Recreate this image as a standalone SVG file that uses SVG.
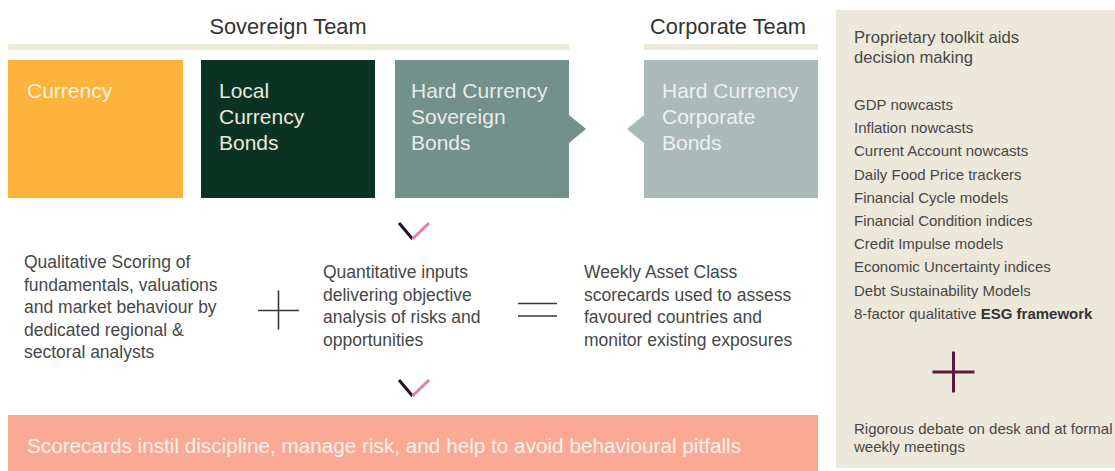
<svg xmlns="http://www.w3.org/2000/svg" width="1115" height="471" viewBox="0 0 1115 471">
  <style>
    text { font-family: "Liberation Sans", Arial, sans-serif; }
    .team { font-size: 21.8px; fill: #333333; text-anchor: middle; }
    .teambar { fill: #EEEADB; }
    .box-label { font-size: 21px; }
    .body { font-size: 17.5px; fill: #474747; }
    .panel-head { font-size: 16.6px; fill: #474747; }
    .panel-item { font-size: 15px; fill: #474747; }
    .op { stroke: #3a3a3a; stroke-width: 1.6; fill: none; }
    .chev-dark { stroke: #2B0F1F; stroke-width: 3; fill: none; }
    .chev-pink { stroke: #E07DB2; stroke-width: 3; fill: none; }
  </style>

  <!-- team headers -->
  <g id="sovereign-team">
    <text class="team" x="288" y="34">Sovereign Team</text>
    <rect class="teambar" x="8" y="44" width="561" height="6"/>
  </g>
  <g id="corporate-team">
    <text class="team" x="728" y="34">Corporate Team</text>
    <rect class="teambar" x="644" y="44" width="174" height="6"/>
  </g>

  <!-- asset class boxes -->
  <g id="currency">
    <rect x="8" y="60" width="175" height="138" fill="#FDB33C"/>
    <text class="box-label" x="27" y="98" fill="#FFF4DE">Currency</text>
  </g>
  <g id="local-currency-bonds">
    <rect x="201" y="60" width="174" height="138" fill="#0B3324"/>
    <text class="box-label" fill="#E9E8DD">
      <tspan x="219" y="98">Local</tspan>
      <tspan x="219" y="124">Currency</tspan>
      <tspan x="219" y="150">Bonds</tspan>
    </text>
  </g>
  <g id="hard-currency-sovereign-bonds">
    <path d="M395 60 H569 V115 L586 129 L569 143 V198 H395 Z" fill="#73908A"/>
    <text class="box-label" fill="#E8ECE8">
      <tspan x="411" y="98">Hard Currency</tspan>
      <tspan x="411" y="124">Sovereign</tspan>
      <tspan x="411" y="150">Bonds</tspan>
    </text>
  </g>
  <g id="hard-currency-corporate-bonds">
    <path d="M644 60 H818 V198 H644 V143 L627 129 L644 115 Z" fill="#AABAB8"/>
    <text class="box-label" fill="#EDF1F0">
      <tspan x="662" y="98">Hard Currency</tspan>
      <tspan x="662" y="124">Corporate</tspan>
      <tspan x="662" y="150">Bonds</tspan>
    </text>
  </g>

  <!-- process description row -->
  <g id="qualitative">
    <text class="body">
      <tspan x="24" y="268">Qualitative Scoring of</tspan>
      <tspan x="24" y="290.5">fundamentals, valuations</tspan>
      <tspan x="24" y="313">and market behaviour by</tspan>
      <tspan x="24" y="335.5">dedicated regional &amp;</tspan>
      <tspan x="24" y="358">sectoral analysts</tspan>
    </text>
  </g>
  <g id="quantitative">
    <text class="body">
      <tspan x="323" y="278">Quantitative inputs</tspan>
      <tspan x="323" y="300.5">delivering objective</tspan>
      <tspan x="323" y="323">analysis of risks and</tspan>
      <tspan x="323" y="345.5">opportunities</tspan>
    </text>
  </g>
  <g id="scorecards">
    <text class="body">
      <tspan x="584" y="278">Weekly Asset Class</tspan>
      <tspan x="584" y="300.5">scorecards used to assess</tspan>
      <tspan x="584" y="323">favoured countries and</tspan>
      <tspan x="584" y="345.5">monitor existing exposures</tspan>
    </text>
  </g>

  <!-- outcome bar -->
  <g id="outcome">
    <rect x="8" y="415" width="810" height="56" fill="#FAAA94"/>
    <text x="27" y="453" font-size="20" fill="#FFF1EC" textLength="714" lengthAdjust="spacingAndGlyphs">Scorecards instil discipline, manage risk, and help to avoid behavioural pitfalls</text>
  </g>

  <!-- toolkit side panel -->
  <g id="toolkit-panel">
    <rect x="836" y="10" width="279" height="458" fill="#EDE9DA"/>
    <text class="panel-head" x="854" y="43" textLength="165" lengthAdjust="spacingAndGlyphs">Proprietary toolkit aids</text>
    <text class="panel-head" x="854" y="63">decision making</text>
    <text class="panel-item">
      <tspan x="854" y="110">GDP nowcasts</tspan>
      <tspan x="854" y="133.2">Inflation nowcasts</tspan>
      <tspan x="854" y="156.4">Current Account nowcasts</tspan>
      <tspan x="854" y="179.6">Daily Food Price trackers</tspan>
      <tspan x="854" y="202.8">Financial Cycle models</tspan>
      <tspan x="854" y="226">Financial Condition indices</tspan>
      <tspan x="854" y="249.2">Credit Impulse models</tspan>
      <tspan x="854" y="272.4">Economic Uncertainty indices</tspan>
      <tspan x="854" y="295.6">Debt Sustainability Models</tspan>
      <tspan x="854" y="318.8">8-factor qualitative <tspan font-weight="bold" fill="#333333">ESG framework</tspan></tspan>
    </text>
    <path d="M932.5 372 H974.5 M953.5 351.5 V392.5" stroke="#5B1A3C" stroke-width="3" fill="none"/>
    <text class="panel-item" font-size="14.6">
      <tspan x="854" y="434">Rigorous debate on desk and at formal</tspan>
      <tspan x="854" y="451.5">weekly meetings</tspan>
    </text>
  </g>

  <!-- connectors: flow chevrons and operators -->
  <g id="connectors">
    <path class="chev-dark" d="M399 223 L412.5 239"/>
    <path class="chev-pink" d="M412.5 239 L429 223"/>
    <path class="chev-dark" d="M399 380 L412.5 396"/>
    <path class="chev-pink" d="M412.5 396 L429 380"/>
    <path class="op" d="M258 310.5 H299 M278.5 290.5 V329.5"/>
    <path class="op" stroke-width="2" d="M518 303.5 H557 M518 316 H557"/>
  </g>
</svg>
